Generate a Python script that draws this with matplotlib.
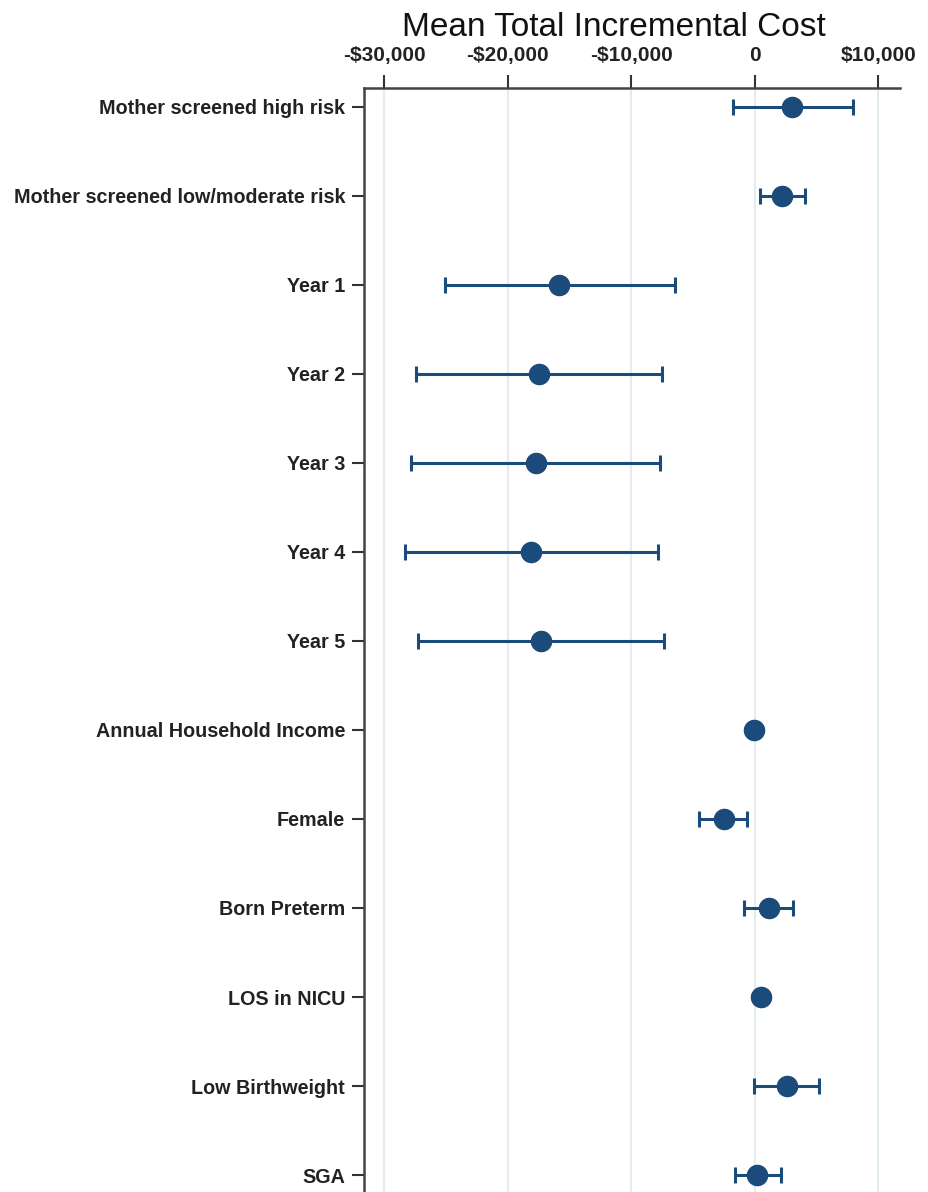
import numpy as np
import matplotlib.pyplot as plt
from matplotlib.ticker import FuncFormatter

# Forest plot data (values in $)
labels = ['Mother screened high risk', 'Mother screened low/moderate risk',
          'Year 1', 'Year 2', 'Year 3', 'Year 4', 'Year 5',
          'Annual Household Income', 'Female', 'Born Preterm',
          'LOS in NICU', 'Low Birthweight', 'SGA']
est = [3000, 2180, -15820, -17500, -17740, -18120, -17290,
       -80, -2510, 1140, 490, 2570, 190]
ci_low = [-1790, 410, -25090, -27470, -27850, -28350, -27260,
          -80, -4510, -890, 490, -50, -1620]
ci_high = [7940, 4060, -6500, -7500, -7650, -7820, -7350,
           -80, -620, 3110, 490, 5190, 2110]
xticks = [-30000, -20000, -10000, 0, 10000]

plt.rcParams['font.family'] = ['Liberation Sans', 'DejaVu Sans']

fig = plt.figure(figsize=(9.29, 11.92), dpi=100)
W, H = 929, 1192
ax = fig.add_axes([364 / W, 0, (900 - 364) / W, (1192 - 88) / H])

col = '#1b4b7a'
y = np.arange(len(labels))
est = np.array(est)
lo = est - np.array(ci_low)
hi = np.array(ci_high) - est
has_ci = (lo + hi) > 0
ax.errorbar(est[has_ci], y[has_ci], xerr=[lo[has_ci], hi[has_ci]], fmt='none',
            ecolor=col, elinewidth=2.2, capsize=5.5, capthick=2.2, zorder=2)
ax.plot(est, y, 'o', color=col, markersize=14.5, zorder=3)

ax.set_ylim(len(labels) - 1 + 0.19, -0.21)
ax.set_xlim(-31650, 11760)
ax.set_yticks(y)
ax.set_yticklabels(labels, fontsize=14.2, fontweight='bold', color='#222222')
ax.set_xticks(xticks)


def money(v, pos):
    if v == 0:
        return '0'
    s = '${:,.0f}'.format(abs(v))
    return '-' + s if v < 0 else s


ax.xaxis.set_major_formatter(FuncFormatter(money))
ax.xaxis.tick_top()
ax.tick_params(axis='x', length=9.5, width=1.5, color='#333333', pad=7,
               labelsize=15, labelcolor='#222222')
for t in ax.get_xticklabels():
    t.set_fontweight('bold')
ax.tick_params(axis='y', length=8.5, width=1.5, color='#333333', pad=5)

ax.grid(axis='x', color='#e3edf1', linewidth=1.5, zorder=0)
ax.set_axisbelow(True)
for s in ['right', 'bottom']:
    ax.spines[s].set_visible(False)
for s in ['top', 'left']:
    ax.spines[s].set_color('#444444')
    ax.spines[s].set_linewidth(1.8)

fig.text(614 / W, 1 - 36 / H, 'Mean Total Incremental Cost', ha='center',
         va='baseline', fontsize=24, color='#111111')

fig.savefig('out.png', dpi=100)
